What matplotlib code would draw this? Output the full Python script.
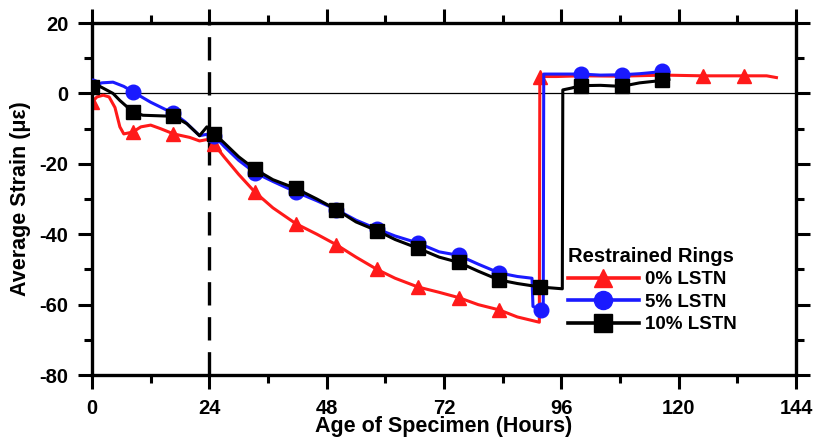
import matplotlib.pyplot as plt
from matplotlib.lines import Line2D

plt.rcParams['font.family'] = ['Liberation Sans', 'DejaVu Sans']
plt.rcParams['font.weight'] = 'bold'
plt.rcParams['axes.unicode_minus'] = False

# ---------- DATA ----------
# 0% LSTN (red)
red_x = [0, 1, 2.3, 3.5, 4.7, 5.7, 6.5, 8.3, 10, 12, 14, 16.7, 20, 22, 24, 25, 27, 30, 33.3,
         37, 41.7, 46, 50, 54, 58.3, 62, 66.7, 71, 75, 79, 83.3, 87, 91.5, 91.6, 95, 100,
         108, 117, 125, 133.3, 138, 140]
red_y = [-2.5, -1, -0.5, -1, -4, -9.5, -11.5, -11, -9.5, -9, -10, -11.5, -12.5, -13.5, -13,
         -14.5, -18, -23, -28, -32.5, -37, -40, -43, -46.5, -50, -52.5, -55, -56.5, -58, -60,
         -61.5, -63.5, -65, 4.8, 4.8, 5.0, 4.9, 5.2, 5.0, 5.0, 5.0, 4.5]
red_mx = [0, 8.33, 16.67, 25, 33.33, 41.67, 50, 58.33, 66.67, 75, 83.33, 91.6, 100, 108.33,
          116.67, 125, 133.33]
red_my = [-2.5, -11, -11.5, -14.5, -28, -37, -43, -50, -55, -58, -61.5, 4.8, 5.0, 4.9, 5.1,
          5.0, 5.0]

# 5% LSTN (blue)
blue_x = [0, 2, 4.3, 6.5, 8.3, 12, 16.7, 19, 22, 24, 25, 27, 30, 33.3, 37, 41.7, 46, 50, 54,
          58.3, 62, 66.7, 71, 75, 79, 83.3, 87, 90, 90.2, 91.7, 92.3, 92.4, 96, 100, 104,
          108.3, 112, 116.7, 118]
blue_y = [2, 3, 3.2, 2, 0.5, -2.5, -5.7, -8, -12, -11.5, -12, -15, -19, -22.5, -25, -28,
          -30.5, -33, -36, -38.5, -40.5, -42.5, -45, -46, -48.5, -51, -52, -52.5, -60.5,
          -61.5, -61, 5.5, 5.5, 5.5, 5.2, 5.3, 5.6, 6.2, 6.0]
blue_mx = [0, 8.33, 16.67, 25, 33.33, 41.67, 50, 58.33, 66.67, 75, 83.33, 91.9, 100, 108.33,
           116.67]
blue_my = [2, 0.5, -5.7, -12, -22.5, -28, -33, -38.5, -42.5, -46, -51, -61.5, 5.5, 5.3, 6.3]

# 10% LSTN (black)
blk_x = [0, 1.6, 4.3, 5.7, 8.3, 10.4, 16.7, 19.4, 22, 23.5, 25, 27, 30, 33.3, 37, 41.7, 46,
         50, 54, 58.3, 62, 66.7, 71, 75, 79, 83.3, 87, 91.7, 96.2, 96.3, 98, 100, 104, 108.3,
         112, 116.7, 118]
blk_y = [1.7, 2, 0, -2, -5.2, -6.2, -6.5, -8.6, -12, -9.5, -11.4, -14, -18, -21.5, -24.5,
         -27, -30, -33, -36.5, -39, -41.5, -44, -46.5, -48, -50.5, -53, -54, -55, -55.5, 1,
         1.5, 2.2, 2.3, 2.0, 3.0, 3.7, 4.0]
blk_mx = [0, 8.33, 16.67, 25, 33.33, 41.67, 50, 58.33, 66.67, 75, 83.33, 91.67, 100, 108.33,
          116.67]
blk_my = [1.7, -5.2, -6.5, -11.4, -21.5, -27, -33, -39, -44, -48, -53, -55, 2.2, 2.0, 3.7]

LABELS = ["0% LSTN", "5% LSTN", "10% LSTN"]
X_TICKS = [0, 24, 48, 72, 96, 120, 144]
Y_TICKS = [-80, -60, -40, -20, 0, 20]

# ---------- PLOT ----------
fig = plt.figure(figsize=(8.17, 4.47), dpi=100)
ax = fig.add_axes([0.1126, 0.161, 0.8617, 0.7875])

ax.axhline(0, color='black', lw=0.9, zorder=1)
ax.axvline(24, color='black', lw=2.4, dashes=(7, 3.5), zorder=1)

series = [
    (red_x, red_y, red_mx, red_my, '#ff1a1a', '^'),
    (blue_x, blue_y, blue_mx, blue_my, '#1a1aff', 'o'),
    (blk_x, blk_y, blk_mx, blk_my, 'black', 's'),
]
handles = []
for i, (x, y, mx, my, c, m) in enumerate(series):
    ax.plot(x, y, color=c, lw=2.2, zorder=2 + i)
    ax.plot(mx, my, ls='none', marker=m, color=c, ms=10.5, zorder=2 + i)
    handles.append(Line2D([], [], color=c, lw=2.6, marker=m, ms=13))

ax.set_xlim(0, 144)
ax.set_ylim(-80, 20)
ax.set_xticks(X_TICKS)
ax.set_yticks(Y_TICKS)
ax.set_xticks(range(12, 144, 24), minor=True)
ax.set_yticks(range(-70, 20, 20), minor=True)
ax.tick_params(which='both', direction='out', top=True, right=True, width=2.2,
               labelsize=14.5)
ax.tick_params(which='major', length=10, pad=7)
ax.tick_params(which='minor', length=6)
ax.tick_params(top=True, labeltop=False, right=True, labelright=False)
for s in ax.spines.values():
    s.set_linewidth(2.4)

ax.set_xlabel("Age of Specimen (Hours)", fontsize=15.5, fontweight='bold', labelpad=-1)
ax.set_ylabel("Average Strain (\u03bc\u03b5)", fontsize=15.5, fontweight='bold', labelpad=6)

leg = ax.legend(handles, LABELS, title="Restrained Rings", loc='upper left',
                bbox_to_anchor=(0.665, 0.385), frameon=False, handlelength=3.8,
                fontsize=13.5, title_fontsize=14.5, labelspacing=0.28, handletextpad=0.3,
                borderaxespad=0)
leg._legend_box.align = 'left'
leg.get_title().set_fontweight('bold')

fig.savefig("out.png", dpi=100)
